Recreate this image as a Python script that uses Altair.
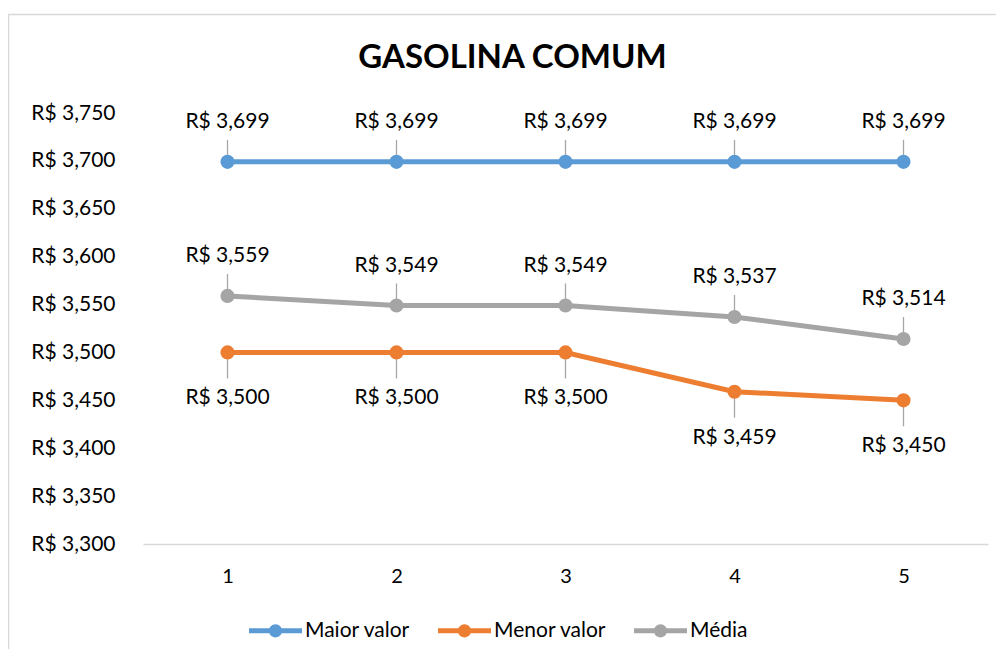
import altair as alt
import pandas as pd

# ---- data ----
semanas = [1, 2, 3, 4, 5]
maior_valor = [3.699, 3.699, 3.699, 3.699, 3.699]
menor_valor = [3.500, 3.500, 3.500, 3.459, 3.450]
media = [3.559, 3.549, 3.549, 3.537, 3.514]
series_names = ["Maior valor", "Menor valor", "Média"]
series_colors = ["#5B9BD5", "#ED7D31", "#A5A5A5"]
y_ticks = [3.30, 3.35, 3.40, 3.45, 3.50, 3.55, 3.60, 3.65, 3.70, 3.75]

rows = []
for name, vals in zip(series_names, [maior_valor, menor_valor, media]):
    for s, v in zip(semanas, vals):
        rows.append({"semana": s, "valor": v, "serie": name})
df = pd.DataFrame(rows)

FONT = "Lato"
W, H = 845, 431
PAD = {"left": 135, "top": 105, "right": 8, "bottom": 105}

fmt = "'R$ ' + replace(format(datum.value, '.3f'), '.', ',')"

base = alt.Chart(df).transform_calculate(
    rotulo="'R$ ' + replace(format(datum.valor, '.3f'), '.', ',')"
)

x_enc = alt.X(
    "semana:O",
    scale=alt.Scale(type="point", padding=0.5),
    axis=alt.Axis(
        title=None, labelAngle=0, ticks=False, grid=False,
        domainColor="#d9d9d9", domainWidth=1.5,
        labelFont=FONT, labelFontSize=20, labelColor="#000000", labelPadding=22,
    ),
)
y_enc = alt.Y(
    "valor:Q",
    scale=alt.Scale(domain=[3.30, 3.75], nice=False, zero=False),
    axis=alt.Axis(
        title=None, values=y_ticks, labelExpr=fmt, domain=False, ticks=False,
        grid=False, labelFont=FONT, labelFontSize=21, labelColor="#000000",
        labelPadding=28,
    ),
)

# legend glyph: line segment with a dot in the middle (Excel style)
leg_path = (
    "M-1,-0.09 L-0.2,-0.09 L-0.2,0.09 L-1,0.09 Z "
    "M0.2,-0.09 L1,-0.09 L1,0.09 L0.2,0.09 Z "
    "M-0.25,0 A0.25,0.25 0 1,1 0.25,0 A0.25,0.25 0 1,1 -0.25,0 Z"
)
legend = alt.Legend(
    title=None, orient="none", direction="horizontal",
    legendX=106, legendY=491,
    symbolType=leg_path, symbolSize=2809, symbolStrokeWidth=0,
    symbolOpacity=1,
    labelFont=FONT, labelFontSize=21, labelColor="#000000",
    labelOffset=3, columnPadding=27, labelLimit=300,
)
color_enc = alt.Color(
    "serie:N", scale=alt.Scale(domain=series_names, range=series_colors),
    legend=legend,
)

border = alt.Chart(df).mark_rect(
    fillOpacity=0, stroke="#d9d9d9", strokeWidth=1.5
).encode(
    x=alt.value(-134.5), x2=alt.value(900), y=alt.value(-98.5), y2=alt.value(700)
).transform_filter("datum.semana == 1 && datum.serie == 'Média'")

points = base.mark_point(filled=True, size=200, opacity=1).encode(
    x=x_enc, y=y_enc, color=color_enc
)
lines = base.mark_line(strokeWidth=5).encode(x=x_enc, y=y_enc, color=color_enc)

up = base.transform_filter("datum.serie != 'Menor valor'")
down = base.transform_filter("datum.serie == 'Menor valor'")

lead_up = up.mark_rule(color="#a6a6a6", strokeWidth=1.3, yOffset=-5, y2Offset=-22).encode(
    x=x_enc, y=y_enc, y2="valor:Q"
)
lead_down = down.mark_rule(color="#a6a6a6", strokeWidth=1.3, yOffset=5, y2Offset=26).encode(
    x=x_enc, y=y_enc, y2="valor:Q"
)
text_up = up.mark_text(dy=-40, font=FONT, fontSize=21, color="#000000").encode(
    x=x_enc, y=y_enc, text="rotulo:N"
)
text_down = down.mark_text(dy=46, font=FONT, fontSize=21, color="#000000").encode(
    x=x_enc, y=y_enc, text="rotulo:N"
)

chart = alt.layer(
    border, lead_up, lead_down, points, lines, text_up, text_down
).properties(
    width=W, height=H,
    autosize=alt.AutoSizeParams(type="none"),
    padding=PAD,
    title=alt.TitleParams(
        "GASOLINA COMUM", font=FONT, fontSize=33, fontWeight="bold",
        color="#000000", anchor="middle", baseline="alphabetic",
        dx=-53, dy=87.5, offset=0,
    ),
).configure_view(stroke=None)

chart.save("out.html", embed_options={"renderer": "svg", "actions": False})
